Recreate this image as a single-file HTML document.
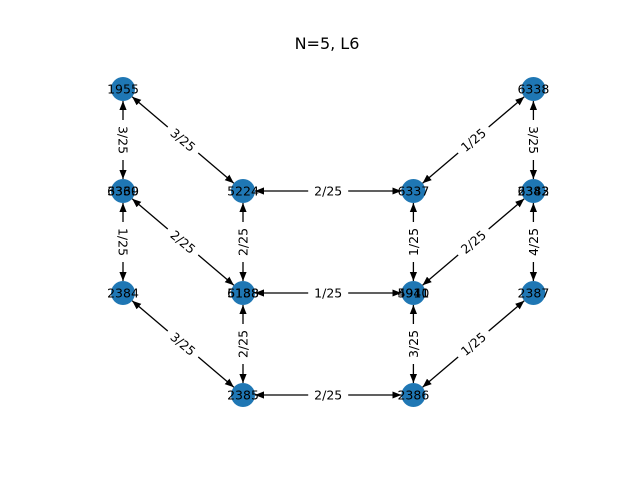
<!DOCTYPE html>
<html><head><meta charset="utf-8"><style>
body{margin:0;background:#fff}
svg text{font-family:"DejaVu Sans","Liberation Sans",sans-serif}
</style></head><body>
<svg id="g" width="640" height="480" xmlns="http://www.w3.org/2000/svg">
<defs><marker id="ah" viewBox="0 0 10 10" refX="10" refY="5" markerWidth="9" markerHeight="9" markerUnits="userSpaceOnUse" orient="auto-start-reverse"><path d="M0,1 L10,5 L0,9 z" fill="#000"/></marker></defs>
<text x="327" y="49" font-size="16" text-anchor="middle">N=5, L6</text>
</svg>
<script>
const nodeIds=["1955","mL","2384","5224","mC","2385","6337","mR","2386","6338","tR","2387"];
const nodeX=[0,0,0,1,1,1,2.42,2.42,2.42,3.42,3.42,3.42];
const nodeY=[0,1,2,1,2,3,1,2,3,0,1,2];
const nodeLabels=[["1955"],["6360","3339"],["2384"],["5224"],["6188","5138"],["2385"],["6337"],["5940","4911"],["2386"],["6338"],["2382","6343"],["2387"]];
const edgeFrom=[0,0,1,1,3,2,4,3,4,5,6,6,9,10,10,7,11];
const edgeTo=[1,3,2,4,4,5,5,6,7,8,7,9,10,7,11,8,8];
const edgeLabels=["3/25","3/25","1/25","2/25","2/25","3/25","2/25","2/25","1/25","2/25","1/25","1/25","3/25","2/25","4/25","3/25","1/25"];
const edgeRot=[90,40,90,40,-90,40,-90,0,0,0,-90,-40,90,-40,-90,-90,-40];
const sx=v=>123+v*120, sy=v=>89+v*102;
const svg=document.getElementById('g'), NS="http://www.w3.org/2000/svg";
const R=12;
edgeFrom.forEach((a,i)=>{
 const b=edgeTo[i];
 const x1=sx(nodeX[a]),y1=sy(nodeY[a]),x2=sx(nodeX[b]),y2=sy(nodeY[b]);
 const L=Math.hypot(x2-x1,y2-y1),ux=(x2-x1)/L,uy=(y2-y1)/L;
 const l=document.createElementNS(NS,'line');
 l.setAttribute('x1',x1+ux*R);l.setAttribute('y1',y1+uy*R);
 l.setAttribute('x2',x2-ux*R);l.setAttribute('y2',y2-uy*R);
 l.setAttribute('stroke','#000');l.setAttribute('stroke-width','1.3');
 l.setAttribute('marker-start','url(#ah)');l.setAttribute('marker-end','url(#ah)');
 
 
 svg.appendChild(l);
});
edgeFrom.forEach((a,i)=>{
 const b=edgeTo[i];
 const mx=(sx(nodeX[a])+sx(nodeX[b]))/2,my=(sy(nodeY[a])+sy(nodeY[b]))/2;
 const g=document.createElementNS(NS,'g');
 g.setAttribute('transform',`translate(${mx},${my}) rotate(${edgeRot[i]})`);
 
 
 const r=document.createElementNS(NS,'rect');
 r.setAttribute('x',-20);r.setAttribute('y',-9);r.setAttribute('width',40);r.setAttribute('height',18);r.setAttribute('fill','#fff');
 g.appendChild(r);
 const t=document.createElementNS(NS,'text');
 t.setAttribute('text-anchor','middle');t.setAttribute('y',4.5);t.setAttribute('font-size','12.5');
 t.textContent=edgeLabels[i];g.appendChild(t);
 svg.appendChild(g);
});
nodeIds.forEach((id,i)=>{
 const c=document.createElementNS(NS,'circle');
 c.setAttribute('cx',sx(nodeX[i]));c.setAttribute('cy',sy(nodeY[i]));c.setAttribute('r',R);c.setAttribute('fill','#1f77b4');
 
 
 svg.appendChild(c);
 nodeLabels[i].forEach(s=>{
  const t=document.createElementNS(NS,'text');
  t.setAttribute('x',sx(nodeX[i]));t.setAttribute('y',sy(nodeY[i])+4.5);
  t.setAttribute('text-anchor','middle');t.setAttribute('font-size','12.5');
  t.textContent=s;
  
  
  svg.appendChild(t);
 });
});
</script>
</body></html>
